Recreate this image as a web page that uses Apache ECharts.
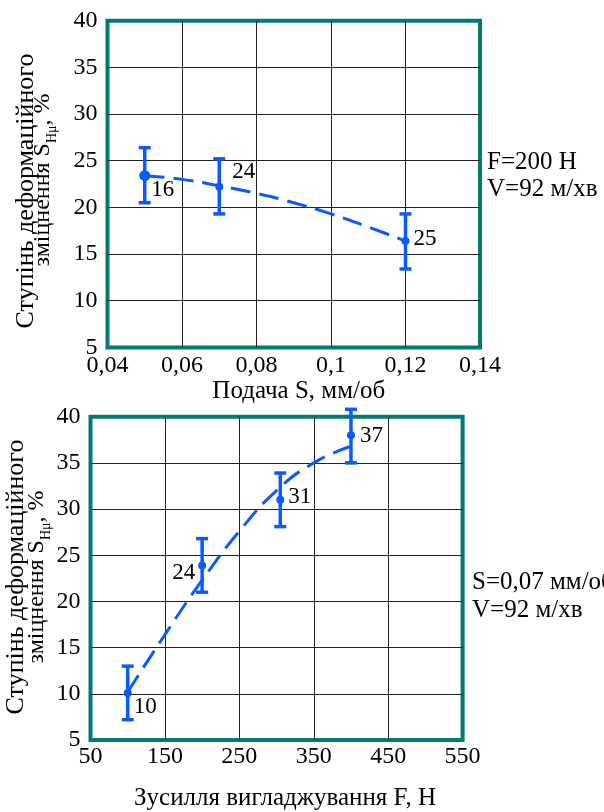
<!DOCTYPE html>
<html><head><meta charset="utf-8">
<script src="https://cdn.jsdelivr.net/npm/echarts@6/dist/echarts.min.js"></script>
<style>html,body{margin:0;padding:0;background:#fff}#c{width:604px;height:812px}</style>
</head><body><div id="c"></div>
<script>
// ---- data: top chart (feed S) ----
const topFeed = [0.05, 0.07, 0.12];
const topValue = [23.4, 22.2, 16.4];
const topLow = [20.5, 19.3, 13.4];
const topHigh = [26.4, 25.2, 19.3];
const topCount = ['16', '24', '25'];
const topTrendFeed = [0.05, 0.06, 0.07, 0.08, 0.09, 0.10, 0.11, 0.12];
const topTrendValue = [23.4, 23.0, 22.3, 21.5, 20.5, 19.3, 17.9, 16.4];
const topXTicks = [0.04, 0.06, 0.08, 0.10, 0.12, 0.14];
const yTicks = [5, 10, 15, 20, 25, 30, 35, 40];

// ---- data: bottom chart (force F) ----
const botForce = [100, 200, 305, 400];
const botValue = [10.1, 23.9, 31.0, 38.0];
const botLow = [7.2, 21.0, 28.1, 35.0];
const botHigh = [13.0, 26.8, 33.9, 40.8];
const botCount = ['10', '24', '31', '37'];
const botTrendForce = [100, 150, 200, 250, 300, 350, 400];
const botTrendValue = [10.2, 16.4, 22.3, 27.6, 32.0, 35.0, 36.8];
const botXTicks = [50, 150, 250, 350, 450, 550];

// ---- styles ----
const BLUE = '#0a5bff';
const TEAL = '#007a72';
const FONT = 'Liberation Serif';
const topLabelPlace = [
  {position: 'right', distance: 1, offset: [0, 14]},
  {position: 'right', distance: 9, offset: [0, -15]},
  {position: 'right', distance: 4, offset: [0, -2]}
];
const botLabelPlace = [
  {position: 'right', distance: 2, offset: [0, 14]},
  {position: 'left', distance: 3, offset: [0, 8]},
  {position: 'right', distance: 4, offset: [0, -3]},
  {position: 'right', distance: 5, offset: [0, 1]}
];
const topSymbol = [11, 8, 8];

const chart = echarts.init(document.getElementById('c'), null, {renderer: 'canvas'});

function errBar(params, api) {
  const x = api.value(0), lo = api.value(1), hi = api.value(2);
  const a = api.coord([x, hi]), b = api.coord([x, lo]);
  const w = 6;
  const st = {stroke: BLUE, lineWidth: 3.5};
  return {type: 'group', children: [
    {type: 'line', shape: {x1: a[0], y1: a[1], x2: b[0], y2: b[1]}, style: st},
    {type: 'line', shape: {x1: a[0] - w, y1: a[1], x2: a[0] + w, y2: a[1]}, style: st},
    {type: 'line', shape: {x1: b[0] - w, y1: b[1], x2: b[0] + w, y2: b[1]}, style: st}
  ]};
}

const labelText = {fontFamily: FONT, fontSize: 24, color: '#000'};
function xAxisCfg(grid, ticks, name, gap, pad, margin, fmt) {
  return {
    type: 'value', gridIndex: grid,
    min: ticks[0], max: ticks[ticks.length - 1],
    interval: Math.round((ticks[1] - ticks[0]) * 1000) / 1000,
    name: name, nameLocation: 'middle', nameGap: gap,
    nameTextStyle: {fontFamily: FONT, fontSize: 25, color: '#000', padding: pad},
    axisLine: {show: false}, axisTick: {show: false},
    axisLabel: Object.assign({margin: margin, formatter: fmt}, labelText),
    splitLine: {show: true, showMinLine: false, showMaxLine: false, lineStyle: {color: '#222', width: 1}}
  };
}
function yAxisCfg(grid) {
  return {
    type: 'value', gridIndex: grid,
    min: yTicks[0], max: yTicks[yTicks.length - 1], interval: yTicks[1] - yTicks[0],
    axisLine: {show: false}, axisTick: {show: false},
    axisLabel: Object.assign({margin: 10}, labelText),
    splitLine: {show: true, showMinLine: false, showMaxLine: false, lineStyle: {color: '#222', width: 1}}
  };
}
const titleRich = {
  m: {fontFamily: FONT, fontSize: 24, lineHeight: 24, fill: '#000', verticalAlign: 'middle'},
  s: {fontFamily: FONT, fontSize: 14, lineHeight: 32, fill: '#000', verticalAlign: 'bottom'}
};

const option = {
  backgroundColor: '#fff',
  animation: false,
  grid: [
    {left: 107.5, top: 20.7, width: 372.5, height: 326.7, show: true, borderColor: TEAL, borderWidth: 4, backgroundColor: 'transparent'},
    {left: 90.5, top: 416.7, width: 372.1, height: 326.3, show: true, borderColor: TEAL, borderWidth: 4, backgroundColor: 'transparent'}
  ],
  xAxis: [
    xAxisCfg(0, topXTicks, 'Подача S, мм/об', 32, [0, 0, 0, 10], 6,
      v => String(Math.round(v * 100) / 100).replace('.', ',')),
    xAxisCfg(1, botXTicks, 'Зусилля вигладжування F, Н', 46, [0, 0, 0, 17], 5,
      v => String(Math.round(v)))
  ],
  yAxis: [yAxisCfg(0), yAxisCfg(1)],
  series: [
    {type: 'line', xAxisIndex: 0, yAxisIndex: 0, smooth: true, showSymbol: false, z: 2,
      data: topTrendFeed.map((x, i) => [x, topTrendValue[i]]),
      lineStyle: {color: BLUE, width: 3, type: [20, 9]}},
    {type: 'custom', xAxisIndex: 0, yAxisIndex: 0, renderItem: errBar, z: 3,
      data: topFeed.map((x, i) => [x, topLow[i], topHigh[i]])},
    {type: 'scatter', xAxisIndex: 0, yAxisIndex: 0, z: 4,
      data: topFeed.map((x, i) => ({value: [x, topValue[i]], symbolSize: topSymbol[i],
        label: Object.assign({show: true, formatter: topCount[i]}, topLabelPlace[i])})),
      itemStyle: {color: BLUE, opacity: 1},
      label: {fontFamily: FONT, fontSize: 23, color: '#000'}},
    {type: 'line', xAxisIndex: 1, yAxisIndex: 1, smooth: true, showSymbol: false, z: 2,
      data: botTrendForce.map((x, i) => [x, botTrendValue[i]]),
      lineStyle: {color: BLUE, width: 3, type: [20, 9]}},
    {type: 'custom', xAxisIndex: 1, yAxisIndex: 1, renderItem: errBar, z: 3, clip: false,
      data: botForce.map((x, i) => [x, botLow[i], botHigh[i]])},
    {type: 'scatter', xAxisIndex: 1, yAxisIndex: 1, z: 4, symbolSize: 8,
      data: botForce.map((x, i) => ({value: [x, botValue[i]],
        label: Object.assign({show: true, formatter: botCount[i]}, botLabelPlace[i])})),
      itemStyle: {color: BLUE, opacity: 1},
      label: {fontFamily: FONT, fontSize: 23, color: '#000'}}
  ],
  graphic: [
    {type: 'text', x: 26, y: 191, rotation: Math.PI / 2,
      style: {text: 'Ступінь деформаційного', font: '26px "Liberation Serif"', fill: '#000', align: 'center', verticalAlign: 'middle'}},
    {type: 'text', x: 43, y: 180, rotation: Math.PI / 2,
      style: {text: '{m|зміцнення S}{s|Нμ}{m|, %}', align: 'center', verticalAlign: 'middle', rich: titleRich}},
    {type: 'text', x: 16, y: 577, rotation: Math.PI / 2,
      style: {text: 'Ступінь деформаційного', font: '26px "Liberation Serif"', fill: '#000', align: 'center', verticalAlign: 'middle'}},
    {type: 'text', x: 37, y: 577, rotation: Math.PI / 2,
      style: {text: '{m|зміцнення S}{s|Нμ}{m|, %}', align: 'center', verticalAlign: 'middle', rich: titleRich}},
    {type: 'text', x: 487, y: 162, style: {text: 'F=200 Н', font: '25px "Liberation Serif"', fill: '#000', verticalAlign: 'middle'}},
    {type: 'text', x: 487, y: 189, style: {text: 'V=92 м/хв', font: '25px "Liberation Serif"', fill: '#000', verticalAlign: 'middle'}},
    {type: 'text', x: 472, y: 582, style: {text: 'S=0,07 мм/об', font: '25px "Liberation Serif"', fill: '#000', verticalAlign: 'middle'}},
    {type: 'text', x: 472, y: 610, style: {text: 'V=92 м/хв', font: '25px "Liberation Serif"', fill: '#000', verticalAlign: 'middle'}}
  ]
};
chart.setOption(option);
</script>
</body></html>
